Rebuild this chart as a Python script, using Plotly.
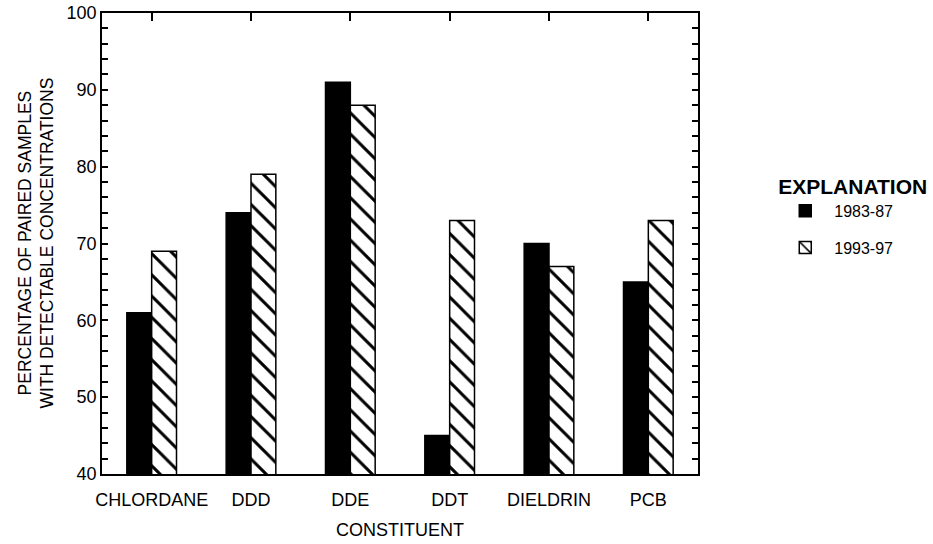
import plotly.graph_objects as go

# Constituents and percentages of paired samples with detectable concentrations
constituents = ["CHLORDANE", "DDD", "DDE", "DDT", "DIELDRIN", "PCB"]
period_early = "1983-87"
period_late = "1993-97"
pct_early = [61, 74, 91, 45, 70, 65]
pct_late = [69, 79, 88, 73, 67, 73]

y_ticks = list(range(40, 101, 2))
y_tick_text = [str(v) if v % 10 == 0 else "" for v in y_ticks]

FONT = "Liberation Sans, Arial, sans-serif"
positions = list(range(len(constituents)))

fig = go.Figure()
fig.add_trace(go.Bar(
    x=positions, y=pct_early, name=period_early,
    marker=dict(color="black", line=dict(color="black", width=1.5)),
    legendgroup="a",
))
fig.add_trace(go.Bar(
    x=positions, y=pct_late, name=period_late,
    marker=dict(color="white", line=dict(color="black", width=1.5),
                pattern=dict(shape="\\", fgcolor="black", bgcolor="white",
                             fgopacity=1, size=15, solidity=0.2)),
    legendgroup="b",
))
# invisible trace that carries the top axis with its category ticks
fig.add_trace(go.Scatter(x=positions, y=pct_early, xaxis="x2", mode="markers",
                         marker=dict(opacity=0), showlegend=False, hoverinfo="skip"))

fig.update_layout(
    width=933, height=544,
    margin=dict(l=102, r=235, t=13, b=70, autoexpand=False),
    paper_bgcolor="white", plot_bgcolor="white",
    barmode="group", bargap=0.5, bargroupgap=0,
    font=dict(family=FONT, size=18, color="black"),
    showlegend=True,
    legend=dict(
        xref="container", yref="container",
        x=0.832, y=0.694, xanchor="left", yanchor="top",
        title=dict(text="<b>EXPLANATION</b>", font=dict(size=21)),
        font=dict(size=16), itemwidth=48, tracegroupgap=13,
        traceorder="grouped",
    ),
    xaxis=dict(
        range=[-0.5, 5.5], tickvals=positions, ticktext=constituents,
        ticks="", showline=True, linecolor="black", linewidth=1.5,
        mirror=True, showgrid=False, zeroline=False,
        tickfont=dict(size=18), ticklabelstandoff=9,
    ),
    xaxis2=dict(
        range=[-0.5, 5.5], overlaying="x", side="top", tickvals=positions,
        ticks="inside", ticklen=8, tickwidth=1.5, tickcolor="black",
        showticklabels=False, showline=False, showgrid=False, zeroline=False,
    ),
    yaxis=dict(
        range=[40, 100], tickvals=y_ticks, ticktext=y_tick_text,
        ticks="inside", ticklen=6, tickwidth=1.5, tickcolor="black",
        showline=True, linecolor="black", linewidth=1.5, mirror="ticks",
        showgrid=False, zeroline=False, tickfont=dict(size=18),
    ),
    annotations=[
        dict(text="PERCENTAGE OF PAIRED SAMPLES<br>WITH DETECTABLE CONCENTRATIONS",
             xref="paper", yref="paper", x=0, y=0.5, xshift=-66,
             xanchor="center", yanchor="middle", textangle=-90,
             showarrow=False, font=dict(size=17.5)),
        dict(text="CONSTITUENT", xref="paper", yref="paper", x=0.5, y=0,
             yshift=-56, xanchor="center", yanchor="middle",
             showarrow=False, font=dict(size=18)),
    ],
)

fig.write_html("out.html")
